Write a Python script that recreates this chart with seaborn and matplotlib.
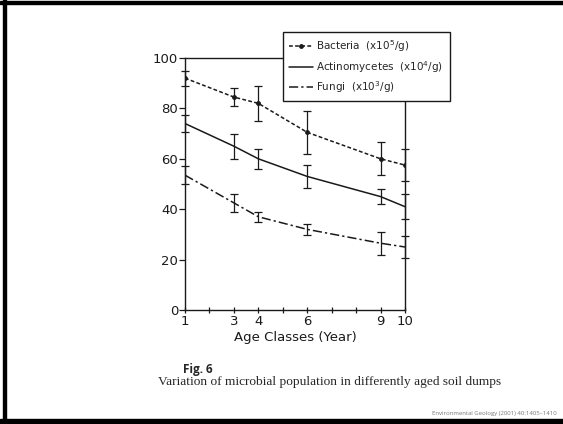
import matplotlib
matplotlib.use("Agg")
import matplotlib.pyplot as plt
import seaborn as sns
from matplotlib.patches import Rectangle

# values
years = [1, 3, 4, 6, 9, 10]
bacteria = [92, 84.5, 82, 70.5, 60, 57.5]
bacteria_err = [3, 3.5, 7, 8.5, 6.5, 6.5]
actino = [74, 65, 60, 53, 45, 41]
actino_err = [3.5, 5, 4, 4.5, 3, 5]
fungi = [53.5, 42.5, 37, 32, 26.5, 25]
fungi_err = [3.5, 3.5, 2, 2.2, 4.5, 4.5]

labels = ["Bacteria  (x10$^5$/g)", "Actinomycetes  (x10$^4$/g)", "Fungi  (x10$^3$/g)"]

sns.set_theme(style="ticks")
plt.rcParams["font.family"] = ["DejaVu Sans"]

W, H = 563, 424
fig = plt.figure(figsize=(W / 100, H / 100), dpi=100)
fig.patch.set_facecolor("white")

# axes placed in pixel terms
ax = fig.add_axes([185 / W, 1 - 310 / H, 220 / W, 252 / H])
ax.set_facecolor("white")

ink = "#1a1a1a"

sns.lineplot(x=years, y=bacteria, ax=ax, color=ink, lw=1.1, linestyle=(0, (2.5, 1.5)),
             marker="o", markersize=3.5, markeredgewidth=0, label=labels[0])
sns.lineplot(x=years, y=actino, ax=ax, color=ink, lw=1.1, linestyle="-", label=labels[1])
sns.lineplot(x=years, y=fungi, ax=ax, color=ink, lw=1.1, linestyle=(0, (6, 2, 1.5, 2)),
             label=labels[2])

for vals, errs in [(bacteria, bacteria_err), (actino, actino_err), (fungi, fungi_err)]:
    ax.errorbar(years, vals, yerr=errs, fmt="none", ecolor=ink, elinewidth=0.9,
                capsize=3, capthick=0.9, clip_on=False)

ax.set_xlim(1, 10)
ax.set_ylim(0, 100)
ax.set_xticks([1, 3, 4, 6, 9, 10])
ax.set_xticks([2, 5, 7, 8], minor=True)
ax.set_yticks([0, 20, 40, 60, 80, 100])
ax.tick_params(axis="x", which="both", direction="inout", length=5, width=0.9,
               labelsize=9.5, pad=1, colors=ink)
ax.tick_params(axis="y", which="both", direction="out", length=4, width=0.9,
               labelsize=9.5, pad=1, colors=ink)
for s in ax.spines.values():
    s.set_visible(True)
    s.set_color(ink)
    s.set_linewidth(1.0)

ax.set_xlabel("Age Classes (Year)", fontsize=9.5, color=ink, labelpad=2)
ax.set_ylabel("")

leg = ax.legend(loc="upper left", bbox_to_anchor=(0.445, 1.103), borderaxespad=0,
                fontsize=7.5, frameon=True, fancybox=False, handlelength=2.3,
                handletextpad=0.3, borderpad=0.6, labelspacing=0.45, numpoints=1)
leg.get_frame().set_edgecolor(ink)
leg.get_frame().set_linewidth(1.0)
leg.get_frame().set_facecolor("white")
leg.get_frame().set_alpha(1)
leg.set_zorder(10)

# captions
fig.text(183 / W, 1 - 370 / H, "Fig. 6", fontsize=8.5, fontweight="bold",
         family=["Open Sans", "DejaVu Sans"], va="center", ha="left")
fig.text(158 / W, 1 - 382 / H,
         "Variation of microbial population in differently aged soil dumps",
         fontsize=9.6, family=["Liberation Serif"], va="center", ha="left")
fig.text(557 / W, 1 - 414 / H, "Environmental Geology (2001) 40:1405\u20131410",
         fontsize=4.3, color="#777777", family=["Open Sans", "DejaVu Sans"],
         va="center", ha="right")

# slide frame
for (x0, y0, w, h) in [(3, 0, 3, H), (0, 1, W, 3), (0, 419, W, 5)]:
    fig.patches.append(Rectangle((x0 / W, 1 - (y0 + h) / H), w / W, h / H,
                                 transform=fig.transFigure, color="black", zorder=20))

fig.savefig("out.png", dpi=100)
